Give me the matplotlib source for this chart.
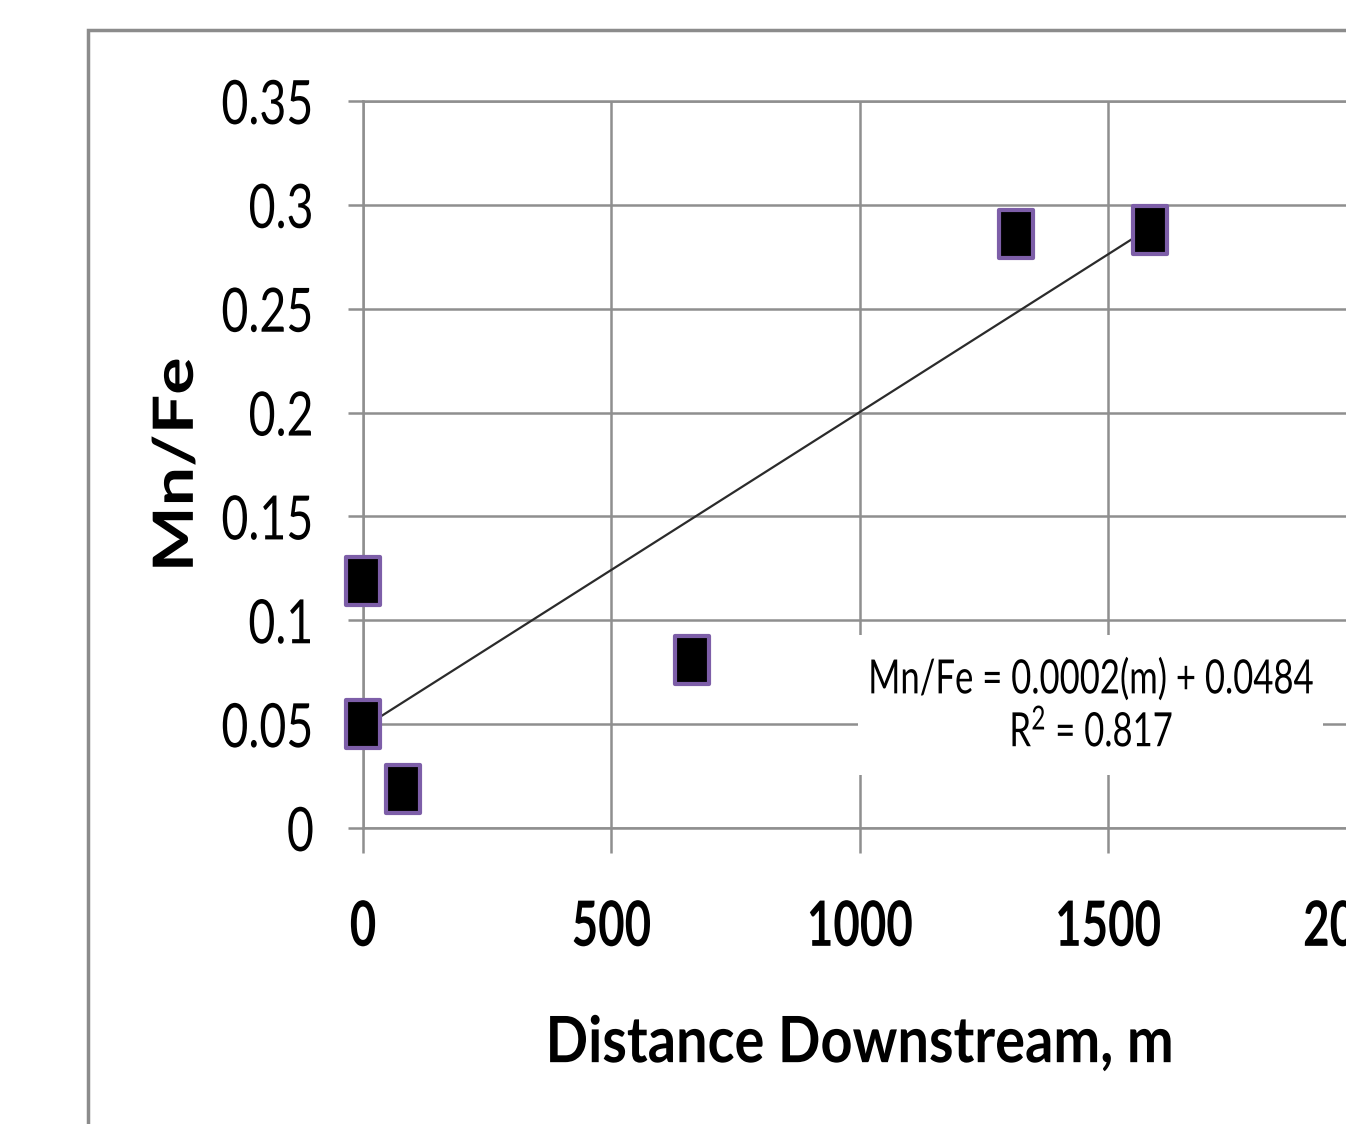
import numpy as np
import matplotlib
matplotlib.use('Agg')
import matplotlib.pyplot as plt
from matplotlib.path import Path
from matplotlib.patches import Rectangle
from matplotlib.patheffects import AbstractPathEffect
from matplotlib.transforms import Affine2D

# data
distance = [0, 0, 80, 663, 1315, 1585]
mn_fe = [0.119, 0.050, 0.019, 0.081, 0.286, 0.288]
x_ticks = [0, 500, 1000, 1500, 2000]
y_ticks = [0, 0.05, 0.1, 0.15, 0.2, 0.25, 0.3, 0.35]
y_ticklabels = ['0', '0.05', '0.1', '0.15', '0.2', '0.25', '0.3', '0.35']
eq_text = 'Mn/Fe = 0.0002(m) + 0.0484'
r2_text = 'R$^2$ = 0.817'

plt.rcParams['font.family'] = 'Lato'
plt.rcParams['mathtext.default'] = 'regular'


class HStretch(AbstractPathEffect):
    """squeeze/stretch glyphs along the text direction (the source image is stretched)"""

    def __init__(self, sx, anchor='center'):
        super().__init__()
        self.sx = sx
        self.anchor = anchor

    def draw_path(self, renderer, gc, tpath, affine, rgbFace=None):
        ext = tpath.get_extents()
        if self.anchor == 'right':
            cx = ext.x1
        elif self.anchor == 'left':
            cx = ext.x0
        else:
            cx = (ext.x0 + ext.x1) / 2
        t = Affine2D().translate(-cx, 0).scale(self.sx, 1).translate(cx, 0) + affine
        renderer.draw_path(gc, tpath, t, rgbFace)


W, H = 1346, 1124
fig = plt.figure(figsize=(W / 100, H / 100), dpi=100)
fig.patch.set_facecolor('white')

# outer chart frame (runs off the right and bottom edges)
fig.patches.append(Rectangle((88 / W, -0.1), 2.0, (H - 30) / H + 0.1, transform=fig.transFigure,
                             fill=False, edgecolor='#8c8c8c', linewidth=2.5))

ax = fig.add_axes([363 / W, (H - 828) / H, 993 / W, 727 / H])
ax.set_xlim(0, 2000)
ax.set_ylim(0, 0.35)

grid_c = '#8f8f8f'
ax.set_xticks(x_ticks)
ax.set_yticks(y_ticks)
ax.set_yticklabels(y_ticklabels)
ax.grid(True, color=grid_c, linewidth=1.8)
ax.set_axisbelow(True)
for s in ax.spines.values():
    s.set_color(grid_c)
    s.set_linewidth(1.8)
ax.tick_params(axis='x', direction='out', length=18, width=1.8, color=grid_c, pad=33, labelsize=45)
ax.tick_params(axis='y', direction='out', length=11, width=1.8, color=grid_c, pad=24, labelsize=44)
for lab in ax.get_xticklabels():
    lab.set_fontweight('bold')

# trend line
coef = np.polyfit(distance, mn_fe, 1)
xs = np.array([min(distance), max(distance)])
ax.plot(xs, np.polyval(coef, xs), color='#2b2b2b', linewidth=1.6, zorder=3)

# tall square markers
rect = Path([(-0.72, -1), (0.72, -1), (0.72, 1), (-0.72, 1), (-0.72, -1)],
            [Path.MOVETO, Path.LINETO, Path.LINETO, Path.LINETO, Path.CLOSEPOLY])
ax.plot(distance, mn_fe, linestyle='none', marker=rect, markersize=34,
        markerfacecolor='black', markeredgecolor='#7d5ea8', markeredgewidth=3,
        zorder=4, clip_on=False)

# white patch behind the trendline label
ax.add_patch(Rectangle(((858 - 363) / 993, (H - 775 - (H - 828)) / 727), 465 / 993, 140 / 727,
                       transform=ax.transAxes, facecolor='white', edgecolor='none', zorder=4.5))
note = ax.text(1466, 0.0585, eq_text + '\n' + r2_text, ha='center', va='center',
               fontsize=34, linespacing=1.2, zorder=5)

xl = ax.set_xlabel('Distance Downstream, m', fontweight='bold', fontsize=46, labelpad=42)
yl = ax.set_ylabel('Mn/Fe', fontweight='bold', fontsize=40, labelpad=-6)

# squeeze the text to the proportions of the source picture
fig.canvas.draw()
r = fig.canvas.get_renderer()


def squeeze(txts, sample, target, anchor='center', vertical=False):
    bb = sample.get_window_extent(r)
    sx = target / (bb.height if vertical else bb.width)
    for t in txts:
        t.set_path_effects([HStretch(sx, anchor)])


ylabs = ax.get_yticklabels()
xlabs = ax.get_xticklabels()
squeeze(ylabs, ylabs[-1], 92, 'right')
squeeze(xlabs, xlabs[2], 106)
squeeze([xl], xl, 628)
squeeze([note], note, 446)
squeeze([yl], yl, 215, vertical=True)

fig.savefig('out.png', dpi=100)
